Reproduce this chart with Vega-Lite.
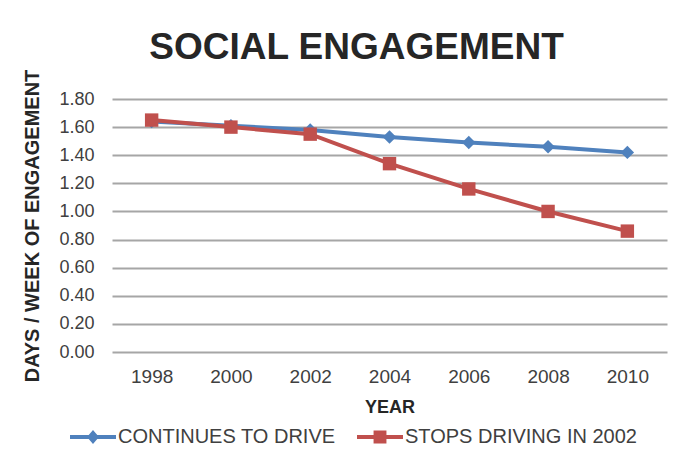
{
  "$schema": "https://vega.github.io/schema/vega-lite/v6.json",
  "autosize": "none",
  "width": 555,
  "height": 253,
  "padding": {"left": 112, "top": 99, "right": 12, "bottom": 107},
  "background": "white",
  "title": {
    "text": "SOCIAL ENGAGEMENT",
    "font": "Liberation Sans",
    "fontSize": 37,
    "fontWeight": "bold",
    "color": "#262626",
    "anchor": "middle",
    "dx": -33,
    "offset": 2
  },
  "config": {
    "view": {"stroke": null},
    "font": "Liberation Sans"
  },
  "data": {
    "values": [
      {"year": "1998", "series": "CONTINUES TO DRIVE", "value": 1.64},
      {"year": "2000", "series": "CONTINUES TO DRIVE", "value": 1.61},
      {"year": "2002", "series": "CONTINUES TO DRIVE", "value": 1.58},
      {"year": "2004", "series": "CONTINUES TO DRIVE", "value": 1.53},
      {"year": "2006", "series": "CONTINUES TO DRIVE", "value": 1.49},
      {"year": "2008", "series": "CONTINUES TO DRIVE", "value": 1.46},
      {"year": "2010", "series": "CONTINUES TO DRIVE", "value": 1.42},
      {"year": "1998", "series": "STOPS DRIVING IN 2002", "value": 1.65},
      {"year": "2000", "series": "STOPS DRIVING IN 2002", "value": 1.60},
      {"year": "2002", "series": "STOPS DRIVING IN 2002", "value": 1.55},
      {"year": "2004", "series": "STOPS DRIVING IN 2002", "value": 1.34},
      {"year": "2006", "series": "STOPS DRIVING IN 2002", "value": 1.16},
      {"year": "2008", "series": "STOPS DRIVING IN 2002", "value": 1.00},
      {"year": "2010", "series": "STOPS DRIVING IN 2002", "value": 0.86}
    ]
  },
  "encoding": {
    "x": {
      "field": "year",
      "type": "ordinal",
      "scale": {"type": "point", "padding": 0.5},
      "axis": {
        "title": "YEAR",
        "titleFont": "Liberation Sans",
        "titleFontSize": 18,
        "titleFontWeight": "bold",
        "titleColor": "#262626",
        "titlePadding": 12,
        "labelAngle": 0,
        "labelFont": "Liberation Sans",
        "labelFontSize": 19,
        "labelColor": "#404040",
        "labelPadding": 15,
        "domain": false,
        "ticks": false,
        "grid": false
      }
    },
    "y": {
      "field": "value",
      "type": "quantitative",
      "scale": {"domain": [0, 1.8], "nice": false},
      "axis": {
        "title": "DAYS / WEEK OF ENGAGEMENT",
        "titleFont": "Liberation Sans",
        "titleFontSize": 20,
        "titleFontWeight": "bold",
        "titleColor": "#262626",
        "titlePadding": 16,
        "values": [0, 0.2, 0.4, 0.6, 0.8, 1.0, 1.2, 1.4, 1.6, 1.8],
        "format": ".2f",
        "labelFont": "Liberation Sans",
        "labelFontSize": 18,
        "labelColor": "#404040",
        "labelPadding": 18,
        "domain": false,
        "ticks": false,
        "grid": true,
        "gridColor": "#a6a6a6",
        "gridWidth": 2
      }
    },
    "color": {
      "field": "series",
      "type": "nominal",
      "scale": {
        "domain": ["CONTINUES TO DRIVE", "STOPS DRIVING IN 2002"],
        "range": ["#4f81bd", "#c0504d"]
      },
      "legend": {
        "title": null,
        "orient": "none",
        "direction": "horizontal",
        "legendX": -42,
        "legendY": 315,
        "labelFont": "Liberation Sans",
        "labelFontSize": 20,
        "labelColor": "#404040",
        "labelOffset": 2,
        "columnPadding": 21,
        "symbolSize": 2116,
        "symbolOpacity": 1,
        "symbolStrokeWidth": 0,
        "labelLimit": 400
      }
    }
  },
  "layer": [
    {
      "mark": {"type": "point", "filled": true, "opacity": 0},
      "encoding": {
        "shape": {
          "field": "series",
          "type": "nominal",
          "scale": {
            "domain": ["CONTINUES TO DRIVE", "STOPS DRIVING IN 2002"],
            "range": [
              "M-1,-0.09H1V0.09H-1Z M0,-0.3L0.26,0L0,0.3L-0.26,0Z",
              "M-1,-0.09H1V0.09H-1Z M-0.28,-0.28H0.28V0.28H-0.28Z"
            ]
          },
          "legend": null
        }
      }
    },
    {
      "mark": {"type": "line", "strokeWidth": 4}
    },
    {
      "transform": [{"filter": "datum.series === 'CONTINUES TO DRIVE'"}],
      "mark": {"type": "point", "filled": true, "opacity": 1, "shape": "diamond", "size": 180}
    },
    {
      "transform": [{"filter": "datum.series === 'STOPS DRIVING IN 2002'"}],
      "mark": {"type": "point", "filled": true, "opacity": 1, "shape": "square", "size": 180}
    }
  ]
}
